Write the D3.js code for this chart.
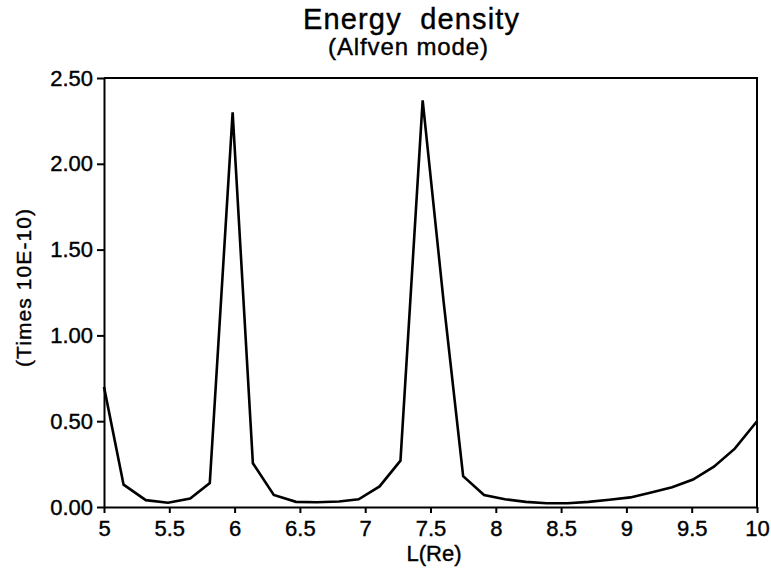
<!DOCTYPE html>
<html>
<head>
<meta charset="utf-8">
<script src="https://cdn.jsdelivr.net/npm/d3@7"></script>
<style>
  body { margin: 0; background: #fff; }
  svg { font-family: "Liberation Sans", Arial, sans-serif; }
  .axis path, .axis line { stroke: #000; stroke-width: 2; }
  .axis text { font-size: 22px; fill: #000; stroke: #000; stroke-width: 0.4; }
  .lbl { fill: #000; stroke: #000; stroke-width: 0.4; }
</style>
</head>
<body>
<svg width="771" height="573"></svg>
<script>
// L shell values (Re) and energy density (times 1e-10)
const lValues = [5.00, 5.15, 5.32, 5.49, 5.66, 5.81, 5.985, 6.14, 6.30, 6.47, 6.63, 6.80, 6.95, 7.11, 7.27, 7.44, 7.60, 7.75,
                 7.91, 8.07, 8.23, 8.39, 8.55, 8.71, 8.87, 9.03, 9.19, 9.35, 9.51, 9.67, 9.83, 10.0];
const energy = [0.70, 0.13, 0.04, 0.025, 0.05, 0.14, 2.30, 0.255, 0.07, 0.03, 0.028, 0.032, 0.045, 0.12, 0.27, 2.37, 1.20, 0.18,
                0.07, 0.045, 0.03, 0.022, 0.022, 0.03, 0.042, 0.056, 0.085, 0.115, 0.16, 0.235, 0.34, 0.50];
const xTicks = [5, 5.5, 6, 6.5, 7, 7.5, 8, 8.5, 9, 9.5, 10];
const yTicks = [0, 0.5, 1.0, 1.5, 2.0, 2.5];

const margin = { top: 78, right: 14, bottom: 66, left: 104 },
      width = 771 - margin.left - margin.right,
      height = 573 - margin.top - margin.bottom;

const svg = d3.select("svg");
const g = svg.append("g")
  .attr("transform", `translate(${margin.left},${margin.top})`);

const data = lValues.map((l, i) => ({ l, v: energy[i] }));

const x = d3.scaleLinear().domain([5, 10]).range([0, width]);
const y = d3.scaleLinear().domain([0, 2.5]).range([height, 0]);

// frame (top and right)
g.append("path")
  .attr("d", `M0,0H${width}V${height}`)
  .attr("fill", "none")
  .attr("stroke", "#000")
  .attr("stroke-width", 2);

// axes
g.append("g")
  .attr("class", "axis")
  .attr("transform", `translate(0,${height})`)
  .call(d3.axisBottom(x)
    .tickValues(xTicks)
    .tickSize(6)
    .tickSizeOuter(0)
    .tickPadding(7)
    .tickFormat(d3.format("")));

g.append("g")
  .attr("class", "axis")
  .call(d3.axisLeft(y)
    .tickValues(yTicks)
    .tickSize(7)
    .tickSizeOuter(0)
    .tickPadding(4)
    .tickFormat(d3.format(".2f")));

// curve
const line = d3.line()
  .x(d => x(d.l))
  .y(d => y(d.v));

g.append("path")
  .datum(data)
  .attr("fill", "none")
  .attr("stroke", "#000")
  .attr("stroke-width", 2.6)
  .attr("stroke-linejoin", "miter")
  .attr("d", line);

// titles
svg.append("text")
  .attr("class", "lbl")
  .attr("x", 411)
  .attr("y", 29)
  .attr("text-anchor", "middle")
  .attr("textLength", 216)
  .style("font-size", "29px")
  .style("white-space", "pre")
  .text("Energy  density");

svg.append("text")
  .attr("class", "lbl")
  .attr("x", 408)
  .attr("y", 55)
  .attr("text-anchor", "middle")
  .attr("textLength", 160)
  .style("font-size", "24px")
  .text("(Alfven mode)");

// axis labels
svg.append("text")
  .attr("class", "lbl")
  .attr("x", 434)
  .attr("y", 561)
  .attr("text-anchor", "middle")
  .style("font-size", "22px")
  .text("L(Re)");

svg.append("text")
  .attr("class", "lbl")
  .attr("transform", "translate(31,288) rotate(-90)")
  .attr("text-anchor", "middle")
  .attr("textLength", 158)
  .style("font-size", "21px")
  .text("(Times 10E-10)");
</script>
</body>
</html>
